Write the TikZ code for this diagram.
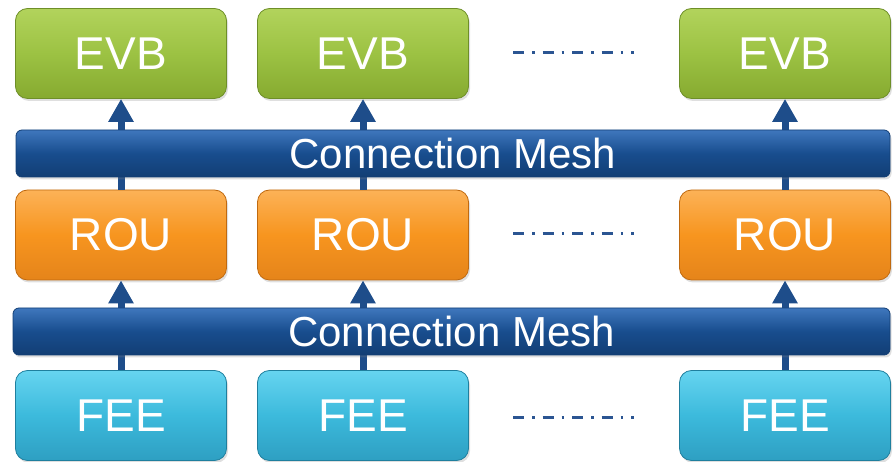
\documentclass[tikz,border=0pt]{standalone}
\usepackage{fontspec}
\setmainfont{Liberation Sans}
\usetikzlibrary{arrows.meta,shadows}
\definecolor{evbT}{HTML}{B2D35C}
\definecolor{evbM}{HTML}{9CC243}
\definecolor{evbB}{HTML}{86AA30}
\definecolor{evbD}{HTML}{6E8F28}
\definecolor{rouT}{HTML}{FCB257}
\definecolor{rouM}{HTML}{F7951F}
\definecolor{rouB}{HTML}{E5841A}
\definecolor{rouD}{HTML}{C06A10}
\definecolor{feeT}{HTML}{66D4F0}
\definecolor{feeM}{HTML}{3CBADC}
\definecolor{feeB}{HTML}{2E9FC2}
\definecolor{feeD}{HTML}{1F7F9E}
\definecolor{meshT}{HTML}{3F77BD}
\definecolor{meshM}{HTML}{184D8E}
\definecolor{meshB}{HTML}{123E74}
\definecolor{arr}{HTML}{1E4D8A}
\definecolor{dsh}{HTML}{2B5592}
\tikzset{
  unitbox/.style={rounded corners=12pt, minimum width=211pt, minimum height=90pt,
    inner sep=0pt, text=white, font=\fontsize{46}{50}\selectfont, line width=0.8pt,
    drop shadow={opacity=0.25, shadow xshift=1.5pt, shadow yshift=-2.5pt}},
  evbbox/.style={unitbox, draw=evbD, top color=evbT, bottom color=evbB, middle color=evbM},
  roubox/.style={unitbox, draw=rouD, top color=rouT, bottom color=rouB, middle color=rouM},
  feebox/.style={unitbox, draw=feeD, top color=feeT, bottom color=feeB, middle color=feeM},
  meshbar/.style={rounded corners=6pt, minimum height=47pt, inner sep=0pt, text=white,
    font=\fontsize{42}{46}\selectfont, draw=meshB, line width=0.8pt,
    top color=meshT, bottom color=meshB, middle color=meshM,
    drop shadow={opacity=0.25, shadow xshift=1.5pt, shadow yshift=-2.5pt}},
  uparrow/.style={draw=arr, line width=7pt, -{Triangle[width=24pt,length=23pt]}, arr},
  dotline/.style={draw=dsh, line width=3pt, dash pattern=on 11pt off 8pt on 2.5pt off 8pt}
}
\begin{document}
\begin{tikzpicture}[x=1pt,y=1pt]
\useasboundingbox (0,0) rectangle (893,462);
% boxes
\node[evbbox] (evb1) at (121,408.5) {EVB};
\node[evbbox] (evb2) at (363,408.5) {EVB};
\node[evbbox] (evb3) at (785,408.5) {EVB};
\node[roubox] (rou1) at (121,227) {ROU};
\node[roubox] (rou2) at (363,227) {ROU};
\node[roubox] (rou3) at (785,227) {ROU};
\node[feebox] (fee1) at (121,46.5) {FEE};
\node[feebox] (fee2) at (363,46.5) {FEE};
\node[feebox] (fee3) at (785,46.5) {FEE};
% arrows (behind meshes)
\foreach \i in {1,2,3}{
  \draw[uparrow] (rou\i.north) -- (evb\i.south);
  \draw[uparrow] (fee\i.north) -- (rou\i.south);
}
% meshes
\node[meshbar, minimum width=874pt] (mesh1) at (453,308.5) {Connection Mesh};
\node[meshbar, minimum width=877pt] (mesh2) at (451.5,130.5) {Connection Mesh};
% dotted continuation
\coordinate (d1a) at (513,409); \coordinate (d1b) at (634,409);
\coordinate (d2a) at (513,228); \coordinate (d2b) at (634,228);
\coordinate (d3a) at (513,44);  \coordinate (d3b) at (634,44);
\draw[dotline] (d1a) -- (d1b);
\draw[dotline] (d2a) -- (d2b);
\draw[dotline] (d3a) -- (d3b);
\end{tikzpicture}
\end{document}
